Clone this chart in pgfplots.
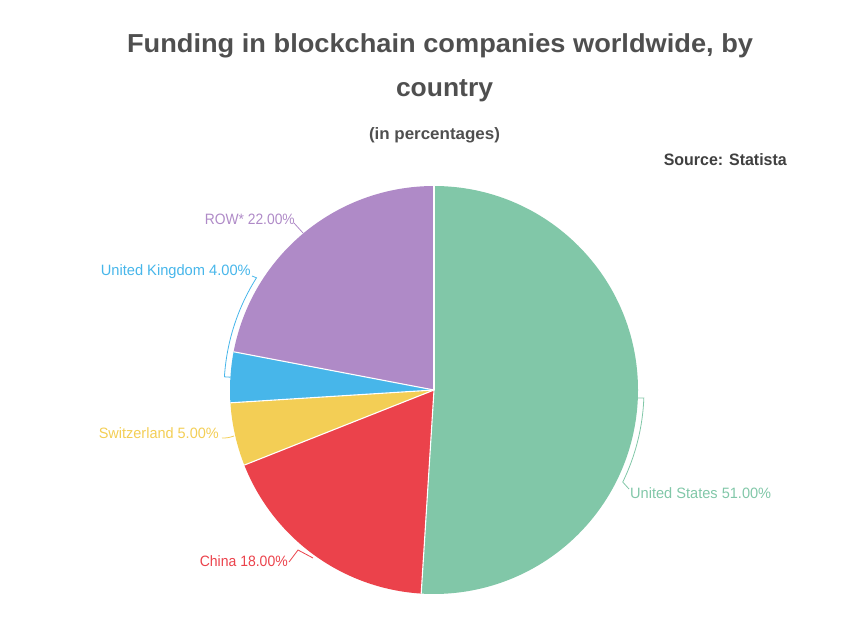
\documentclass[border=0pt]{standalone}
\usepackage{pgfplots}
\pgfplotsset{compat=1.18}
\usepackage{fontspec}
\setmainfont{Liberation Sans}
\usepackage{graphicx}
\definecolor{cUS}{HTML}{81C7A8}
\definecolor{cCN}{HTML}{EB424B}
\definecolor{cCH}{HTML}{F3CE55}
\definecolor{cUK}{HTML}{47B6EA}
\definecolor{cROW}{HTML}{AF8AC7}
\definecolor{ttl}{HTML}{4F4F4F}
\definecolor{src}{HTML}{404040}
% shares in percent
\def\vUS{51}\def\vCN{18}\def\vCH{5}\def\vUK{4}\def\vROW{22}
\newcommand\lbl[3]{\resizebox{#1pt}{\height}{\fontsize{#2}{#2}\selectfont #3}}
\pgfmathsetmacro\aA{90}
\pgfmathsetmacro\aB{\aA-3.6*\vUS}
\pgfmathsetmacro\aC{\aB-3.6*\vCN}
\pgfmathsetmacro\aD{\aC-3.6*\vCH}
\pgfmathsetmacro\aE{\aD-3.6*\vUK}
\pgfmathsetmacro\aF{\aE-3.6*\vROW}
\begin{document}%
\begin{tikzpicture}
\useasboundingbox (0,0) rectangle (851pt,641pt);
\begin{axis}[at={(0,0)}, anchor=south west, scale only axis,
  width=851pt, height=641pt, xmin=0, xmax=851, ymin=0, ymax=641,
  hide axis, clip=false]
\addplot[draw=none] coordinates {(434,251)};
% slices
\fill[cUS] (axis cs:434,251) -- ++(\aA:204pt) arc[start angle=\aA, end angle=\aB, radius=204pt] -- cycle;
\fill[cCN] (axis cs:434,251) -- ++(\aB:204pt) arc[start angle=\aB, end angle=\aC, radius=204pt] -- cycle;
\fill[cCH] (axis cs:434,251) -- ++(\aC:204pt) arc[start angle=\aC, end angle=\aD, radius=204pt] -- cycle;
\fill[cUK] (axis cs:434,251) -- ++(\aD:204pt) arc[start angle=\aD, end angle=\aE, radius=204pt] -- cycle;
\fill[cROW] (axis cs:434,251) -- ++(\aE:204pt) arc[start angle=\aE, end angle=\aF, radius=204pt] -- cycle;
% separators
\draw[white, line width=1.1pt] (axis cs:434,251) -- ++(\aA:204pt);
\draw[white, line width=1.1pt] (axis cs:434,251) -- ++(\aB:204pt);
\draw[white, line width=1.1pt] (axis cs:434,251) -- ++(\aC:204pt);
\draw[white, line width=1.1pt] (axis cs:434,251) -- ++(\aD:204pt);
\draw[white, line width=1.1pt] (axis cs:434,251) -- ++(\aE:204pt);
% leader lines
\draw[cUS, line width=0.8pt] (axis cs:638,243) -- ([shift={(-2.2:210pt)}]axis cs:434,251) arc[start angle=-2.2, end angle=-26, radius=210pt] -- (axis cs:629,152);
\draw[cCN, line width=0.8pt] (axis cs:313,83) -- (axis cs:298,91) -- (axis cs:289,79);
\draw[cCH, line width=0.8pt] (axis cs:234,205) to[bend left=10] (axis cs:222,203);
\draw[cUK, line width=0.8pt] (axis cs:230.4,263.8) -- ([shift={(176.4:210pt)}]axis cs:434,251) arc[start angle=176.4, end angle=147.7, radius=210pt] -- (axis cs:252,365);
\draw[cROW, line width=0.8pt] (axis cs:303,408) -- (axis cs:294,418);
% labels
\node[anchor=base west, inner sep=0, text=cUS] at (axis cs:630,143) {\lbl{141}{15}{United States 51.00\%}};
\node[anchor=base east, inner sep=0, text=cCN] at (axis cs:288,75) {\lbl{88}{15}{China 18.00\%}};
\node[anchor=base east, inner sep=0, text=cCH] at (axis cs:219,203) {\lbl{120}{15}{Switzerland 5.00\%}};
\node[anchor=base east, inner sep=0, text=cUK] at (axis cs:251,366) {\lbl{150}{15}{United Kingdom 4.00\%}};
\node[anchor=base east, inner sep=0, text=cROW] at (axis cs:295,416) {\lbl{90}{15}{ROW* 22.00\%}};
% titles
\node[anchor=base, inner sep=0, text=ttl] at (axis cs:440,588) {\lbl{626}{26}{\bfseries Funding in blockchain companies worldwide, by}};
\node[anchor=base, inner sep=0, text=ttl] at (axis cs:444.5,544) {\lbl{97}{26}{\bfseries country}};
\node[anchor=base, inner sep=0, text=ttl] at (axis cs:434.5,501) {\lbl{131}{16.5}{\bfseries (in percentages)}};
\node[anchor=base east, inner sep=0, text=src] at (axis cs:787,475) {\lbl{123}{16.5}{\bfseries Source: Statista}};
\end{axis}
\end{tikzpicture}%
\end{document}
